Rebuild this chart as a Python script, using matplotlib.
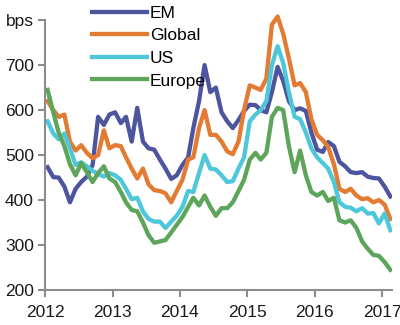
import numpy as np
import pandas as pd
import matplotlib
matplotlib.use('Agg')
import matplotlib.pyplot as plt
import matplotlib.dates as mdates

plt.rcParams['font.family'] = ['Liberation Sans', 'DejaVu Sans']

# monthly spreads, Jan 2012 - Feb 2017 (bps)
months = pd.date_range('2012-01-01', periods=62, freq='MS') + pd.Timedelta(days=14)

em = [473, 451, 450, 430, 395, 425, 440, 452, 478, 585,
      567, 590, 595, 571, 585, 530, 605, 530, 515, 512,
      490, 470, 447, 455, 478, 495, 560, 620, 700, 640,
      650, 595, 575, 560, 578, 598, 612, 611, 600, 595,
      640, 696, 665, 620, 600, 604, 598, 550, 512, 507,
      529, 520, 485, 475, 462, 460, 462, 452, 449, 448,
      430, 408]
glob = [620, 600, 585, 590, 530, 510, 522, 505, 493, 500,
        555, 515, 522, 520, 495, 470, 448, 470, 435, 422,
        420, 415, 395, 420, 445, 490, 495, 560, 600, 545,
        545, 530, 508, 502, 530, 600, 655, 650, 645, 670,
        790, 808, 770, 715, 655, 660, 640, 580, 545, 533,
        518, 480, 425, 418, 425, 410, 402, 404, 395, 400,
        390, 358]
us = [575, 548, 535, 548, 515, 478, 484, 475, 465, 458,
      452, 460, 455, 445, 425, 402, 405, 375, 358, 352,
      352, 338, 352, 365, 385, 420, 418, 460, 500, 470,
      468, 455, 440, 442, 470, 495, 575, 590, 600, 620,
      700, 742, 705, 640, 585, 580, 550, 515, 495, 482,
      470, 440, 395, 385, 383, 375, 382, 370, 371, 348,
      370, 333]
europe = [645, 595, 550, 520, 480, 455, 482, 462, 440, 460,
          475, 448, 440, 418, 395, 378, 375, 350, 322, 305,
          308, 311, 328, 345, 362, 385, 405, 388, 410, 385,
          365, 382, 382, 395, 420, 445, 490, 505, 490, 505,
          585, 605, 600, 520, 462, 510, 455, 418, 410, 418,
          398, 405, 355, 350, 355, 338, 308, 292, 278, 276,
          262, 245]

series = [('EM', em, '#4e559f'),
          ('Global', glob, '#e37b33'),
          ('US', us, '#4fc7db'),
          ('Europe', europe, '#5da55a')]

fig = plt.figure(figsize=(4, 3.25), dpi=100)
ax = fig.add_axes([0.1125, 0.1077, 0.8675, 0.858])

for name, vals, col in series:
    ax.plot(months, vals, color=col, lw=3.1, label=name, solid_joinstyle='round')

ax.set_ylim(200, 820)
ax.set_xlim(pd.Timestamp('2012-01-01'), pd.Timestamp('2017-02-24'))
ax.set_yticks([200, 300, 400, 500, 600, 700, 800])
ax.set_yticklabels(['200', '300', '400', '500', '600', '700', 'bps'])
ax.xaxis.set_major_locator(mdates.YearLocator())
ax.xaxis.set_major_formatter(mdates.DateFormatter('%Y'))

for s in ['top', 'right']:
    ax.spines[s].set_visible(False)
for s in ['left', 'bottom']:
    ax.spines[s].set_color('#8c8c8c')
    ax.spines[s].set_linewidth(1.5)
ax.spines['left'].set_bounds(200, 800)
ax.tick_params(colors='#8c8c8c', labelcolor='#1a1a1a', width=1.5, length=5,
               labelsize=12.5)
ax.tick_params(axis='x', pad=6)
ax.tick_params(axis='y', pad=3)

ax.legend(loc='upper left', bbox_to_anchor=(0.115, 1.045), frameon=False,
          fontsize=12.5, handlelength=3.2, handletextpad=0.15,
          labelspacing=0.43, borderaxespad=0)

fig.savefig('out.png', dpi=100)
